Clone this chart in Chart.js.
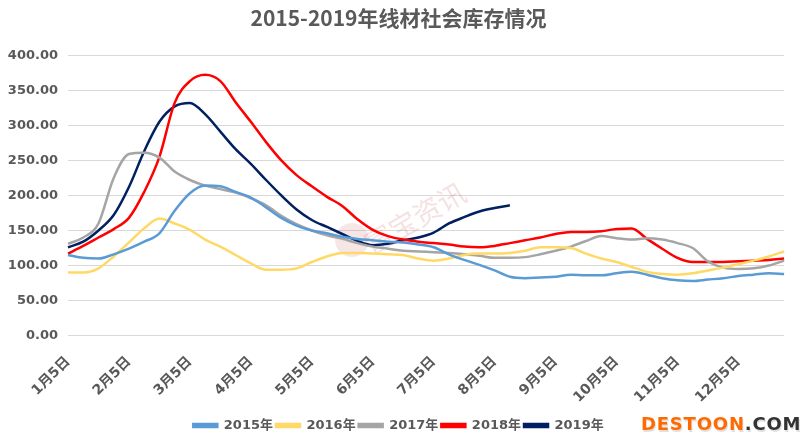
<!DOCTYPE html>
<html>
<head>
<meta charset="utf-8">
<script src="https://cdn.jsdelivr.net/npm/chart.js@4.4.0/dist/chart.umd.min.js"></script>
<style>
  html, body { margin: 0; padding: 0; background: #fff; }
  #wrap { position: relative; width: 806px; height: 444px; }
</style>
</head>
<body>
<div id="wrap"><canvas id="c" width="806" height="444"></canvas></div>
<script>
// weekly categories (4 per month), only the 5th of each month gets a tick label
const categories = [
    '1月5日', '1月12日', '1月19日', '1月26日',
    '2月5日', '2月12日', '2月19日', '2月26日',
    '3月5日', '3月12日', '3月19日', '3月26日',
    '4月5日', '4月12日', '4月19日', '4月26日',
    '5月5日', '5月12日', '5月19日', '5月26日',
    '6月5日', '6月12日', '6月19日', '6月26日',
    '7月5日', '7月12日', '7月19日', '7月26日',
    '8月5日', '8月12日', '8月19日', '8月26日',
    '9月5日', '9月12日', '9月19日', '9月26日',
    '10月5日', '10月12日', '10月19日', '10月26日',
    '11月5日', '11月12日', '11月19日', '11月26日',
    '12月5日', '12月12日', '12月19日', '12月26日'
];
const tickLabels = ['1月5日', '2月5日', '3月5日', '4月5日', '5月5日', '6月5日',
    '7月5日', '8月5日', '9月5日', '10月5日', '11月5日', '12月5日'];

const seriesNames = ['2015年', '2016年', '2017年', '2018年', '2019年'];
const seriesColors = ['#5B9BD5', '#FFD966', '#A5A5A5', '#FF0000', '#002060'];

const v2015 = [115, 111, 110, 116, 124, 134, 146, 178, 203, 214, 213, 205,
    197, 183, 168, 157, 150, 146, 141, 138, 136, 134, 133, 130,
    126, 116, 108, 101, 93, 84, 82, 83, 84, 87, 86, 86,
    89, 91, 87, 82, 79, 78, 80, 82, 85, 87, 89, 88];
const v2016 = [90, 90, 96, 113, 133, 153, 167, 160, 151, 137, 127, 115,
    103, 94, 94, 96, 105, 113, 118, 118, 117, 116, 115, 110,
    107, 110, 115, 117, 117, 118, 121, 126, 126, 125, 117, 110,
    105, 98, 91, 88, 87, 89, 93, 97, 102, 107, 113, 120];
const v2017 = [131, 140, 160, 225, 259, 261, 254, 234, 222, 214, 209, 204,
    196, 186, 171, 159, 150, 143, 138, 132, 127, 124, 121, 120,
    119, 118, 116, 114, 111, 111, 112, 116, 121, 127, 135, 142,
    139, 137, 139, 137, 132, 125, 106, 97, 95, 96, 100, 107];
const v2018 = [117, 128, 140, 152, 168, 205, 255, 332, 363, 372, 363, 333,
    305, 276, 250, 229, 213, 198, 185, 166, 151, 142, 137, 134,
    132, 130, 127, 126, 128, 132, 136, 140, 145, 148, 148, 149,
    152, 153, 138, 124, 111, 105, 105, 105, 106, 107, 108, 110];
const v2019 = [126, 134, 150, 172, 212, 263, 305, 327, 332, 316, 291, 266,
    245, 222, 200, 180, 165, 155, 145, 135, 129, 131, 136, 140,
    147, 160, 169, 177, 182, 186];

const allValues = [v2015, v2016, v2017, v2018, v2019];

const textColor = '#595959';
const fontStack = '"DejaVu Sans", "Noto Sans CJK SC", sans-serif';
const tickFont = { family: fontStack, size: 13, weight: 'bold' };
const xFont = { family: fontStack, size: 14, weight: 'bold' };

const datasets = seriesNames.map((name, i) => ({
    label: name,
    data: allValues[i],
    borderColor: seriesColors[i],
    backgroundColor: seriesColors[i],
    borderWidth: 2.5,
    pointRadius: 0,
    pointHoverRadius: 0,
    fill: false,
    tension: 0.4,
    cubicInterpolationMode: 'monotone'
}));

// watermark texts
const marksPlugin = {
    id: 'marks',
    beforeDatasetsDraw(chart) {
        const ctx = chart.ctx;
        ctx.save();
        // faint logo + text
        ctx.fillStyle = 'rgba(200, 90, 90, 0.15)';
        ctx.beginPath();
        ctx.arc(352, 240, 17, 0, Math.PI * 2);
        ctx.fill();
        ctx.translate(415, 218);
        ctx.rotate(-Math.PI / 6);
        ctx.fillStyle = 'rgba(200, 90, 90, 0.18)';
        ctx.font = '28px "Noto Sans CJK SC", sans-serif';
        ctx.textAlign = 'center';
        ctx.textBaseline = 'middle';
        ctx.fillText('富宝资讯', 0, 0);
        ctx.restore();
    },
    afterDraw(chart) {
        const ctx = chart.ctx;
        ctx.save();
        ctx.font = 'bold 18px "DejaVu Sans", sans-serif';
        ctx.textBaseline = 'middle';
        const spacing = 0.8;
        let x = 641;
        const y = 425;
        const drawSpaced = (s, color) => {
            for (const ch of s) {
                ctx.fillStyle = 'rgba(0,0,0,0.12)';
                ctx.fillText(ch, x + 1, y + 2);
                ctx.fillStyle = color;
                ctx.fillText(ch, x, y);
                x += ctx.measureText(ch).width + spacing;
            }
        };
        drawSpaced('DESTOON', '#FF6A00');
        drawSpaced('.COM', '#333333');
        ctx.restore();
    }
};

new Chart(document.getElementById('c').getContext('2d'), {
    type: 'line',
    data: { labels: categories, datasets: datasets },
    options: {
        responsive: false,
        animation: false,
        layout: { padding: { left: 0, right: 9, top: 5, bottom: 2 } },
        plugins: {
            title: {
                display: true,
                text: '2015-2019年线材社会库存情况',
                color: textColor,
                font: { family: '"Noto Sans CJK SC", sans-serif', size: 21, weight: 'bold' },
                padding: { top: 0, bottom: 25 }
            },
            legend: {
                position: 'bottom',
                labels: {
                    color: textColor,
                    font: tickFont,
                    boxWidth: 24,
                    boxHeight: 3,
                    padding: 3
                }
            },
            tooltip: { enabled: false }
        },
        scales: {
            x: {
                grid: { display: false },
                border: { display: false },
                ticks: {
                    autoSkip: false,
                    maxRotation: 45,
                    minRotation: 45,
                    color: textColor,
                    font: xFont,
                    padding: 10,
                    callback: function(value, index) {
                        const lbl = categories[index];
                        return tickLabels.includes(lbl) ? lbl : '';
                    }
                }
            },
            y: {
                min: 0,
                max: 400,
                grid: { color: '#D9D9D9', lineWidth: 1, drawTicks: false },
                border: { display: false },
                ticks: {
                    stepSize: 50,
                    color: textColor,
                    font: tickFont,
                    padding: 10,
                    callback: v => v.toFixed(2)
                },
                afterFit: function(scale) { scale.width = 68; }
            }
        }
    },
    plugins: [marksPlugin]
});
</script>
</body>
</html>
